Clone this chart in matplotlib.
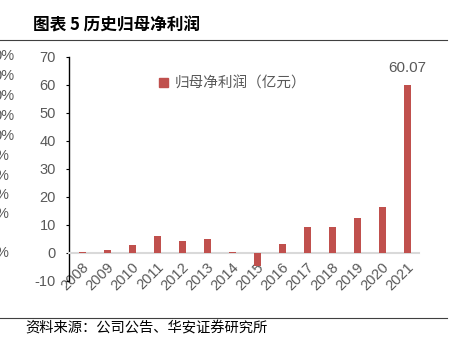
import matplotlib
matplotlib.use('Agg')
import matplotlib.pyplot as plt
from matplotlib.patches import Rectangle
from matplotlib.lines import Line2D

# 数据
years = ['2008', '2009', '2010', '2011', '2012', '2013', '2014',
         '2015', '2016', '2017', '2018', '2019', '2020', '2021']
profit = [0.5, 1.0, 3.0, 6.2, 4.2, 4.9, 0.2,
          -4.5, 3.1, 9.4, 9.4, 12.6, 16.5, 60.07]
y_ticks = [-10, 0, 10, 20, 30, 40, 50, 60, 70]
# 左侧被截断的次坐标轴残留标签
ghost_labels = ['0%', '0%', '0%', '0%', '0%', '%', '%', '%', '%', '%']
ghost_y = [56, 76, 96, 116, 136, 156, 176, 195, 214, 253]

W, H = 458, 337
cjk = ['Noto Sans CJK SC', 'DejaVu Sans']
num_font = 'Liberation Sans'
grey = '#595959'
bar_color = '#C0504D'

fig = plt.figure(figsize=(W / 100, H / 100), dpi=100)
ax = fig.add_axes([69 / W, 1 - 281 / H, 350 / W, (281 - 57) / H])

# 先设置轴线位置（会重置刻度）
for s in ['top', 'right']:
    ax.spines[s].set_visible(False)
ax.spines['bottom'].set_position(('data', 0))
ax.spines['bottom'].set_color('#D9D9D9')
ax.spines['bottom'].set_linewidth(1.5)
ax.spines['left'].set_color('black')
ax.spines['left'].set_linewidth(1.0)

x = list(range(len(years)))
ax.bar(x, profit, width=0.28, color=bar_color, zorder=3)

ax.set_xlim(-0.52, len(years) - 0.52)
ax.set_ylim(-10, 70)
ax.set_yticks(y_ticks)
ax.set_yticklabels([str(v) for v in y_ticks], fontsize=10.5, color=grey, fontfamily=num_font)
ax.set_xticks(x)
ax.set_xticklabels(years, rotation=45, ha='right', va='top', rotation_mode='anchor',
                   fontsize=10.5, color=grey, fontfamily=num_font)
ax.tick_params(axis='x', length=0, pad=5)
ax.tick_params(axis='y', length=2.5, width=0.8, color='black', pad=7)

# 最后一根柱子标注
ax.annotate(f'{profit[-1]:.2f}', (x[-1], profit[-1]), xytext=(0, 7), textcoords='offset points',
            ha='center', va='bottom', fontsize=11, color=grey, fontfamily=num_font)

# 图例
handle = Rectangle((0, 0), 1, 1, color=bar_color)
leg = ax.legend([handle], ['归母净利润（亿元）'], loc='upper left', bbox_to_anchor=(0.25, 0.925),
                frameon=False, handlelength=0.6, handleheight=0.6, handletextpad=0.45,
                borderaxespad=0, borderpad=0.2, prop={'family': cjk, 'size': 10.5})
for t in leg.get_texts():
    t.set_color(grey)

# 残留标签
for lab, yy in zip(ghost_labels, ghost_y):
    xr = 15 if lab == '0%' else 8
    fig.text(xr / W, 1 - yy / H, lab, ha='right', va='center', fontsize=10.5,
             color=grey, fontfamily=num_font)

# 标题、分隔线、来源
fig.text(33 / W, 1 - 25 / H, '图表 5 历史归母净利润', ha='left', va='center',
         fontsize=12, fontweight='bold', fontfamily=cjk, color='black')
fig.add_artist(Line2D([0, 447 / W], [1 - 40 / H, 1 - 40 / H], color='#404040', lw=0.8))
fig.add_artist(Line2D([0, 447 / W], [1 - 318 / H, 1 - 318 / H], color='#404040', lw=0.8))
fig.text(25 / W, 1 - 328 / H, '资料来源：公司公告、华安证券研究所', ha='left', va='center',
         fontsize=10.3, fontfamily=cjk, color='black')

fig.savefig('out.png', dpi=100)
